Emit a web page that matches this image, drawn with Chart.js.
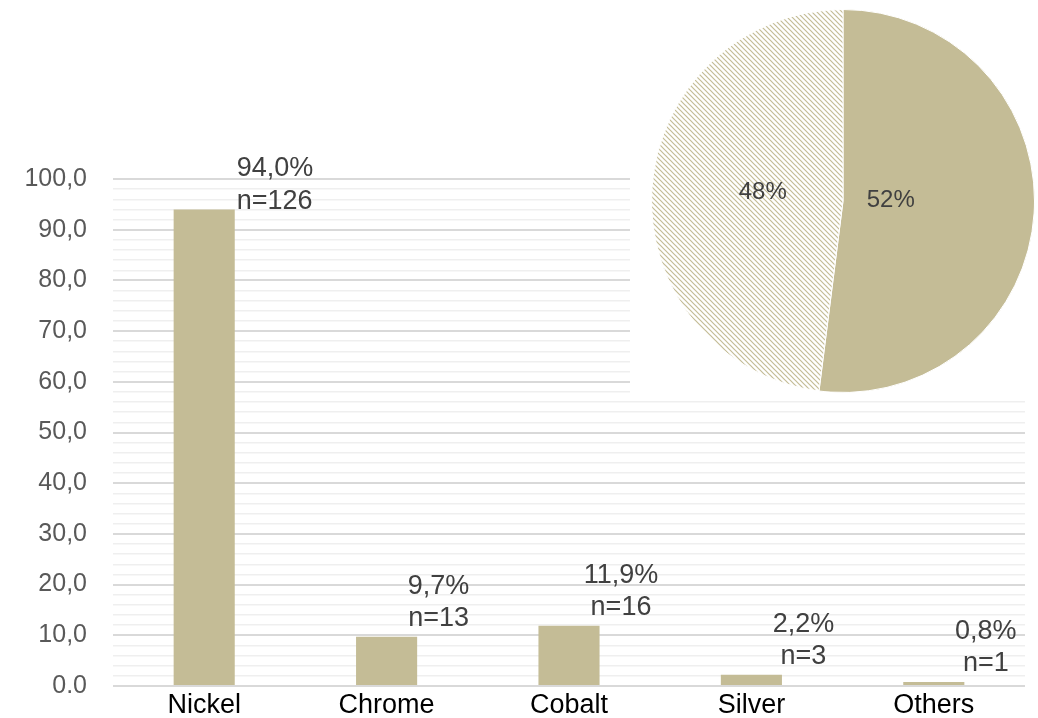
<!DOCTYPE html>
<html>
<head>
<meta charset="utf-8">
<script src="https://cdn.jsdelivr.net/npm/chart.js@4.4.1/dist/chart.umd.min.js"></script>
<style>
  body { margin: 0; background: #fff; }
  #wrap { position: relative; width: 1038px; height: 718px; }
  #barChart { position: absolute; left: 0; top: 0; }
  #pieChart { position: absolute; left: 630px; top: 0; background: #fff; }
</style>
</head>
<body>
<div id="wrap">
  <canvas id="barChart" width="1038" height="718"></canvas>
  <canvas id="pieChart" width="408" height="395"></canvas>
</div>
<script>
// bar data
const metals = ['Nickel', 'Chrome', 'Cobalt', 'Silver', 'Others'];
const percentages = [94.0, 9.7, 11.9, 2.2, 0.8];
const counts = [126, 13, 16, 3, 1];
const percentLabels = ['94,0%', '9,7%', '11,9%', '2,2%', '0,8%'];
const yTickLabels = ['0.0', '10,0', '20,0', '30,0', '40,0', '50,0', '60,0', '70,0', '80,0', '90,0', '100,0'];

// pie data
const pieShares = [52, 48];
const pieLabels = ['52%', '48%'];

const tan = '#c4bc96';

// labels next to bars: "xx,x%" over "n=.."
const barLabels = {
  id: 'barLabels',
  afterDatasetsDraw(chart) {
    const ctx = chart.ctx;
    const meta = chart.getDatasetMeta(0);
    ctx.save();
    ctx.font = '27px "Liberation Sans", Arial, sans-serif';
    ctx.fillStyle = '#404040';
    ctx.textBaseline = 'middle';
    meta.data.forEach((bar, i) => {
      const l1 = percentLabels[i];
      const l2 = 'n=' + counts[i];
      if (bar.y < chart.chartArea.top + 60) {
        // tall bar: put the label beside the bar
        ctx.textAlign = 'left';
        const x = bar.x + bar.width / 2 + 2;
        ctx.fillText(l1, x, bar.y - 41);
        ctx.fillText(l2, x, bar.y - 8);
      } else {
        ctx.textAlign = 'center';
        const x = bar.x + 52;
        ctx.fillText(l1, x, bar.y - 50);
        ctx.fillText(l2, x, bar.y - 18);
      }
    });
    ctx.restore();
  }
};

new Chart(document.getElementById('barChart'), {
  type: 'bar',
  data: {
    labels: metals,
    datasets: [{
      data: percentages,
      backgroundColor: tan,
      barPercentage: 0.335,
      categoryPercentage: 1
    }]
  },
  options: {
    responsive: false,
    animation: false,
    layout: { padding: { top: 179, right: 13, left: 0, bottom: 0 } },
    plugins: { legend: { display: false }, tooltip: { enabled: false } },
    scales: {
      x: {
        grid: { display: false, drawTicks: false },
        border: { display: false },
        ticks: {
          color: '#000',
          padding: 3,
          font: { family: '"Liberation Sans", Arial, sans-serif', size: 27 }
        },
        afterFit(scale) { scale.height = 32; }
      },
      y: {
        min: 0,
        max: 100,
        border: { display: false },
        grid: {
          drawTicks: false,
          color: c => (c.tick && c.tick.value % 10 === 0) ? '#d9d9d9' : '#efefef',
          lineWidth: c => (c.tick && c.tick.value % 10 === 0) ? 2 : 1.5
        },
        ticks: {
          stepSize: 2,
          autoSkip: false,
          padding: 26,
          color: '#595959',
          font: { family: '"Liberation Sans", Arial, sans-serif', size: 25 },
          callback: v => (v % 10 === 0) ? yTickLabels[v / 10] : ''
        },
        afterFit(scale) {
          scale.width = 113;
          scale.paddingTop = 0;
          scale.paddingBottom = 0;
        }
      }
    }
  },
  plugins: [barLabels]
});

// hatch pattern for the 48% slice
function makeHatch() {
  const c = document.createElement('canvas');
  c.width = 5;
  c.height = 5;
  const g = c.getContext('2d');
  g.fillStyle = '#fff';
  g.fillRect(0, 0, 5, 5);
  g.strokeStyle = tan;
  g.lineWidth = 1.2;
  g.beginPath();
  g.moveTo(-1, -1); g.lineTo(6, 6);
  g.moveTo(-1, 4); g.lineTo(1, 6);
  g.moveTo(4, -1); g.lineTo(6, 1);
  g.stroke();
  return document.getElementById('pieChart').getContext('2d').createPattern(c, 'repeat');
}

const pieText = {
  id: 'pieText',
  afterDatasetsDraw(chart) {
    const ctx = chart.ctx;
    const radii = [0.25, 0.42];
    ctx.save();
    ctx.font = '24px "Liberation Sans", Arial, sans-serif';
    ctx.fillStyle = '#404040';
    ctx.textAlign = 'center';
    ctx.textBaseline = 'middle';
    chart.getDatasetMeta(0).data.forEach((arc, i) => {
      const a = (arc.startAngle + arc.endAngle) / 2;
      const r = arc.outerRadius * radii[i];
      ctx.fillText(pieLabels[i], arc.x + Math.cos(a) * r, arc.y + Math.sin(a) * r - 4);
    });
    ctx.restore();
  }
};

new Chart(document.getElementById('pieChart'), {
  type: 'pie',
  data: {
    labels: pieLabels,
    datasets: [{
      data: pieShares,
      backgroundColor: [tan, makeHatch()],
      borderColor: '#fff',
      borderWidth: 1
    }]
  },
  options: {
    responsive: false,
    animation: false,
    layout: { padding: { left: 21, right: 3, top: 9, bottom: 2 } },
    plugins: { legend: { display: false }, tooltip: { enabled: false } }
  },
  plugins: [pieText]
});
</script>
</body>
</html>
